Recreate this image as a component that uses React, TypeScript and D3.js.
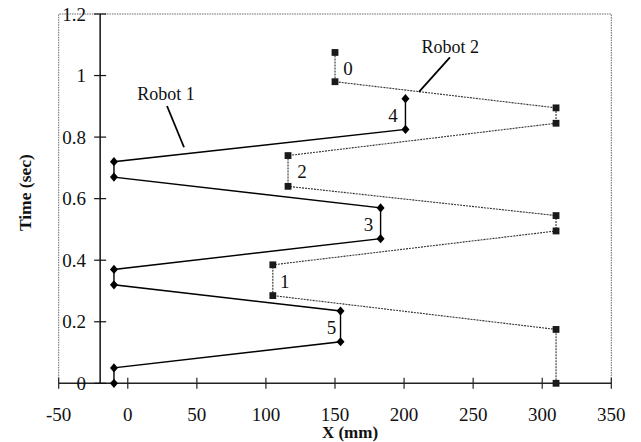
import React from "react";
import * as d3 from "d3";

const robot1X = [-10, -10, 154, 154, -10, -10, 183, 183, -10, -10, 201, 201];
const robot1T = [0, 0.05, 0.135, 0.235, 0.32, 0.37, 0.47, 0.57, 0.67, 0.72, 0.825, 0.925];
const robot2X = [310, 310, 105, 105, 310, 310, 116, 116, 310, 310, 150, 150];
const robot2T = [0, 0.175, 0.285, 0.385, 0.495, 0.545, 0.64, 0.74, 0.845, 0.895, 0.98, 1.075];

const xTicks = [-50, 0, 50, 100, 150, 200, 250, 300, 350];
const yTicks = [0, 0.2, 0.4, 0.6, 0.8, 1, 1.2];

// step labels: [label, robot, segment start index, pixel dx]
const stepLabels: [string, number, number, number][] = [
  ["0", 2, 10, 13],
  ["1", 2, 2, 12],
  ["2", 2, 6, 14],
  ["3", 1, 6, -12],
  ["4", 1, 10, -12.5],
  ["5", 1, 2, -9],
];

const robotNames = ["Robot 1", "Robot 2"];
const robotNamePos = [
  [27.7, 0.94],
  [233.4, 1.094],
];
const robotPointers = [
  [28.4, 0.901, 40.7, 0.767],
  [233.2, 1.059, 210.8, 0.947],
];

const W = 641;
const H = 442;
const FONT = "Liberation Serif, DejaVu Serif, Times New Roman, serif";
const ts: React.CSSProperties = { fontFamily: FONT };

export default function App() {
  const x = d3.scaleLinear().domain([-50, 350]).range([58.7, 611.3]);
  const y = d3.scaleLinear().domain([0, 1.2]).range([383.3, 14]);
  const yAxisX = x(-20);

  const r1 = robot1X.map((v, i) => [v, robot1T[i]] as [number, number]);
  const r2 = robot2X.map((v, i) => [v, robot2T[i]] as [number, number]);
  const line = d3
    .line<[number, number]>()
    .x((d) => x(d[0]))
    .y((d) => y(d[1]));

  const diamond = (cx: number, cy: number) =>
    `M${cx},${cy - 4.6}L${cx + 4},${cy}L${cx},${cy + 4.6}L${cx - 4},${cy}Z`;

  return (
    <svg
      width={W}
      height={H}
      style={{ position: "absolute", left: 0, top: 0, background: "#fff" }}
    >
      <rect width={W} height={H} fill="#fff" />
      {/* plot border (dotted) */}
      <path
        d={`M${x(-50)},${y(0)}V${y(1.2)}H${x(350)}V${y(0)}`}
        fill="none"
        stroke="#666"
        strokeWidth={1}
        strokeDasharray="1.5,1"
      />
      {/* x axis */}
      <line x1={x(-50)} x2={x(350)} y1={y(0)} y2={y(0)} stroke="#222" strokeWidth={1.5} />
      {xTicks.map((t) => (
        <g key={"xt" + t}>
          <line x1={x(t)} x2={x(t)} y1={y(0) - 5.5} y2={y(0) + 5.5} stroke="#222" strokeWidth={1.2} />
          <text x={x(t)} y={421} textAnchor="middle" fontSize={19} fill="#111" style={ts}>
            {t}
          </text>
        </g>
      ))}
      {/* y axis */}
      <line x1={yAxisX} x2={yAxisX} y1={y(0)} y2={y(1.2)} stroke="#111" strokeWidth={1.5} />
      {yTicks.map((t) => (
        <g key={"yt" + t}>
          <line x1={yAxisX - 6} x2={yAxisX + 6} y1={y(t)} y2={y(t)} stroke="#111" strokeWidth={1.2} />
          <text
            x={86}
            y={y(t)}
            textAnchor="end"
            dominantBaseline="central"
            fontSize={19}
            fill="#111"
            style={ts}
          >
            {t}
          </text>
        </g>
      ))}
      {/* axis titles */}
      <text
        x={350}
        y={438}
        textAnchor="middle"
        fontSize={17}
        fontWeight="bold"
        fill="#111"
        style={ts}
      >
        X (mm)
      </text>
      <text
        transform={`translate(25,${(y(0) + y(1.2)) / 2 - 6}) rotate(-90)`}
        textAnchor="middle"
        dominantBaseline="central"
        fontSize={17.5}
        fontWeight="bold"
        fill="#111"
        style={ts}
      >
        Time (sec)
      </text>

      {/* Robot 2 (dotted) */}
      <path
        d={line(r2) || ""}
        fill="none"
        stroke="#333"
        strokeWidth={1.1}
        strokeDasharray="2,1"
      />
      {r2.map((d, i) => (
        <rect
          key={"s" + i}
          x={x(d[0]) - 3.4}
          y={y(d[1]) - 3.4}
          width={6.8}
          height={6.8}
          fill="#1a1a1a"
        />
      ))}

      {/* Robot 1 (solid) */}
      <path d={line(r1) || ""} fill="none" stroke="#000" strokeWidth={1.4} />
      {r1.map((d, i) => (
        <path key={"d" + i} d={diamond(x(d[0]), y(d[1]))} fill="#000" />
      ))}

      {/* step labels */}
      {stepLabels.map(([lab, robot, idx, dx]) => {
        const xs = robot === 1 ? robot1X : robot2X;
        const tt = robot === 1 ? robot1T : robot2T;
        const cx = x(xs[idx]) + dx;
        const cy = (y(tt[idx]) + y(tt[idx + 1])) / 2 + 1;
        return (
          <text
            key={"l" + lab}
            x={cx}
            y={cy}
            textAnchor="middle"
            dominantBaseline="central"
            fontSize={19}
            fill="#111"
            style={ts}
          >
            {lab}
          </text>
        );
      })}

      {/* robot names with pointers */}
      {robotNames.map((n, i) => (
        <g key={n}>
          <text
            x={x(robotNamePos[i][0])}
            y={y(robotNamePos[i][1])}
            textAnchor="middle"
            dominantBaseline="central"
            fontSize={18}
            fill="#111"
            style={ts}
          >
            {n}
          </text>
          <line
            x1={x(robotPointers[i][0])}
            y1={y(robotPointers[i][1])}
            x2={x(robotPointers[i][2])}
            y2={y(robotPointers[i][3])}
            stroke="#000"
            strokeWidth={1.8}
          />
        </g>
      ))}
    </svg>
  );
}
